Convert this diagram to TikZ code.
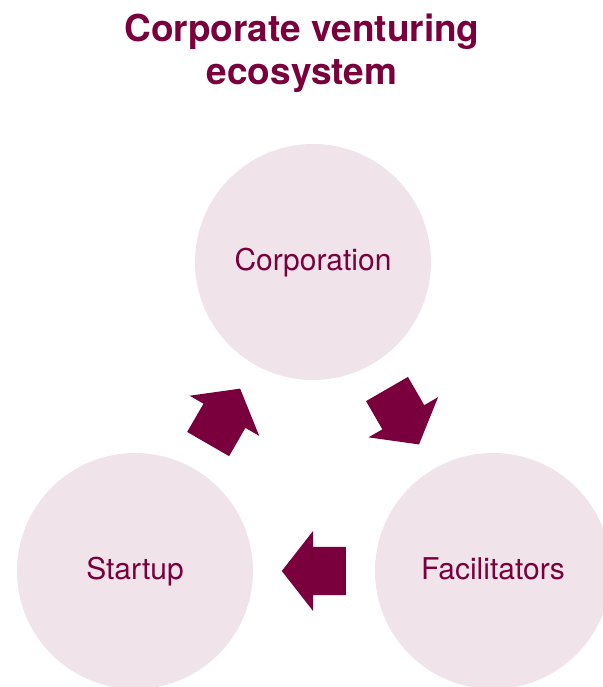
\documentclass[tikz,border=0pt]{standalone}
\usepackage{fontspec}
\setmainfont{TeX Gyre Heros}
\usetikzlibrary{positioning,shapes.arrows,calc}
\definecolor{wine}{RGB}{122,0,61}
\definecolor{blush}{RGB}{240,228,234}
\tikzset{
    hub/.style={circle, minimum size=236pt, inner sep=0pt,
        text height=22pt, text depth=4pt,
        fill=blush, text=wine, font=\fontsize{30}{36}\selectfont},
    flow/.style={single arrow, fill=wine, inner sep=0pt, anchor=tail,
        text height=24pt, text depth=24pt,
        minimum height=64pt, minimum width=80pt,
        single arrow head extend=16pt, single arrow tip angle=104},
    headline/.style={align=center, text=wine, inner sep=0pt,
        font=\fontsize{37}{43}\selectfont\bfseries}
}

\begin{document}
\begin{tikzpicture}[x=1pt,y=1pt]
    \useasboundingbox (0,0) rectangle (602,687);
    \node[headline, anchor=north] (head) at (302,673) {Corporate venturing\\ecosystem};
    \node[hub] (corp) at (313,425) {Corporation};
    \node[hub, on grid] (start) [below left=309pt and 178pt of corp] {Startup};
    \node[hub, on grid] (fac) [below right=309pt and 180pt of corp] {Facilitators};
    % block arrows, tail set back half a length from the midpoint
    \node[flow, rotate=60] (up) at ($($(start)!.5!(corp)$)!32pt!(start)$) {};
    \node[flow, rotate=-60] (down) at ($($(corp)!.5!(fac)$)!32pt!(corp)$) {};
    \node[flow, rotate=180] (back) at ($($(fac)!.5!(start)$)!32pt!(fac)$) {};
\end{tikzpicture}
\end{document}
